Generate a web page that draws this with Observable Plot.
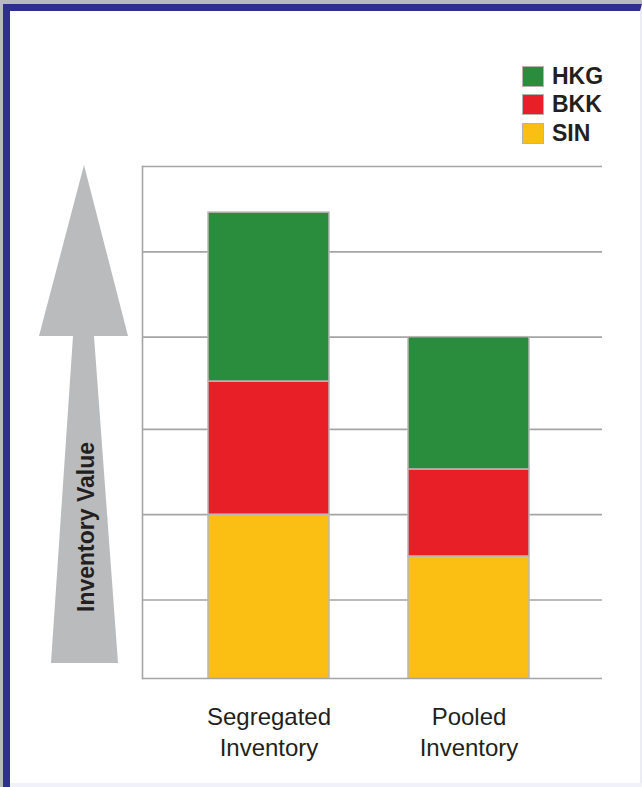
<!DOCTYPE html>
<html>
<head>
<meta charset="utf-8">
<script src="https://cdn.jsdelivr.net/npm/d3@7"></script>
<script src="https://cdn.jsdelivr.net/npm/@observablehq/plot@0.6"></script>
<style>
  html, body { margin: 0; padding: 0; }
  body { width: 642px; height: 787px; background: #b7bbbe; position: relative; overflow: hidden;
         font-family: "Liberation Sans", Arial, Helvetica, sans-serif; }
  #panel { position: absolute; left: 3px; top: 4px; width: 639px; height: 790px;
           background: #ffffff; border-left: 7px solid #2f2f8c; border-top: 7px solid #2f2f8c;
           border-right: 2px solid #ececf4; box-sizing: border-box; }
  #bottomline { position: absolute; left: 10px; top: 783px; width: 632px; height: 4px; background: #f1f1fa; }
  #arrow { position: absolute; left: 0; top: 0; }
  #chart { position: absolute; left: 0; top: 0; }
  #legend { position: absolute; left: 522px; top: 62px; }
  .row { display: flex; align-items: center; height: 28.5px; }
  .sw { width: 20px; height: 19px; border: 1.5px solid #b3b3b3; margin-right: 8px; }
  .lab { font-weight: bold; font-size: 23px; color: #231f20; line-height: 1; }
</style>
</head>
<body>
<div id="panel"></div>
<div id="bottomline"></div>
<svg id="arrow" width="642" height="787"></svg>
<div id="chart"></div>
<div id="legend"></div>
<script>
// ---- data ----
const categories = ["Segregated\nInventory", "Pooled\nInventory"];
const regions = ["HKG", "BKK", "SIN"];          // legend order (top to bottom)
const stackOrder = ["SIN", "BKK", "HKG"];       // bottom to top
const sinValues = [1.92, 1.43];
const bkkValues = [1.56, 1.02];
const hkgValues = [1.98, 1.55];
const gridTicks = [0.92, 1.92, 2.92, 4, 5, 6];
const regionColors = ["#2a8d3d", "#e81f26", "#fbbf14"];
const axisTitle = "Inventory Value";

const valuesByRegion = { SIN: sinValues, BKK: bkkValues, HKG: hkgValues };
const rows = [];
categories.forEach((c, i) => {
  stackOrder.forEach(r => rows.push({ category: c, region: r, value: valuesByRegion[r][i] }));
});

// ---- decorative arrow with axis title ----
const arrow = d3.select("#arrow");
arrow.append("polygon")
  .attr("points", "84,165 39,336 73,336 51,663 118,663 94,336 128,336")
  .attr("fill", "#b9bbbd");
arrow.append("text")
  .attr("transform", "translate(86,527) rotate(-90)")
  .attr("text-anchor", "middle")
  .attr("dominant-baseline", "central")
  .attr("font-family", "Liberation Sans, Arial, sans-serif")
  .attr("font-weight", "bold")
  .attr("font-size", 23)
  .attr("fill", "#231f20")
  .text(axisTitle);

// ---- chart ----
const chart = Plot.plot({
  width: 642,
  height: 787,
  marginTop: 166,
  marginBottom: 109,
  marginLeft: 142,
  marginRight: 40,
  style: { fontFamily: "Liberation Sans, Arial, sans-serif", background: "transparent", overflow: "visible" },
  x: { domain: categories, paddingInner: 0.395, paddingOuter: 0.3475, align: 0.475, axis: null },
  y: { domain: [0, 6], axis: null },
  color: { domain: regions, range: regionColors },
  marks: [
    Plot.ruleY(gridTicks, { stroke: "#a5a5a5", strokeWidth: 1.6 }),
    Plot.barY(rows, { x: "category", y: "value", fill: "region", stroke: "#b8b8b8", strokeWidth: 1.5 }),
    Plot.ruleY([0], { stroke: "#a5a5a5", strokeWidth: 1.6 }),
    Plot.frame({ anchor: "left", stroke: "#a5a5a5", strokeWidth: 1.6 }),
    Plot.axisX({ tickSize: 0, tickPadding: 25, fontSize: 24, lineHeight: 1.29, fill: "#231f20", color: "#231f20", label: null })
  ]
});
document.getElementById("chart").appendChild(chart);

// ---- legend ----
const legend = d3.select("#legend");
regions.forEach((r, i) => {
  const row = legend.append("div").attr("class", "row");
  row.append("div").attr("class", "sw").style("background", regionColors[i]);
  row.append("div").attr("class", "lab").text(r);
});
</script>
</body>
</html>
